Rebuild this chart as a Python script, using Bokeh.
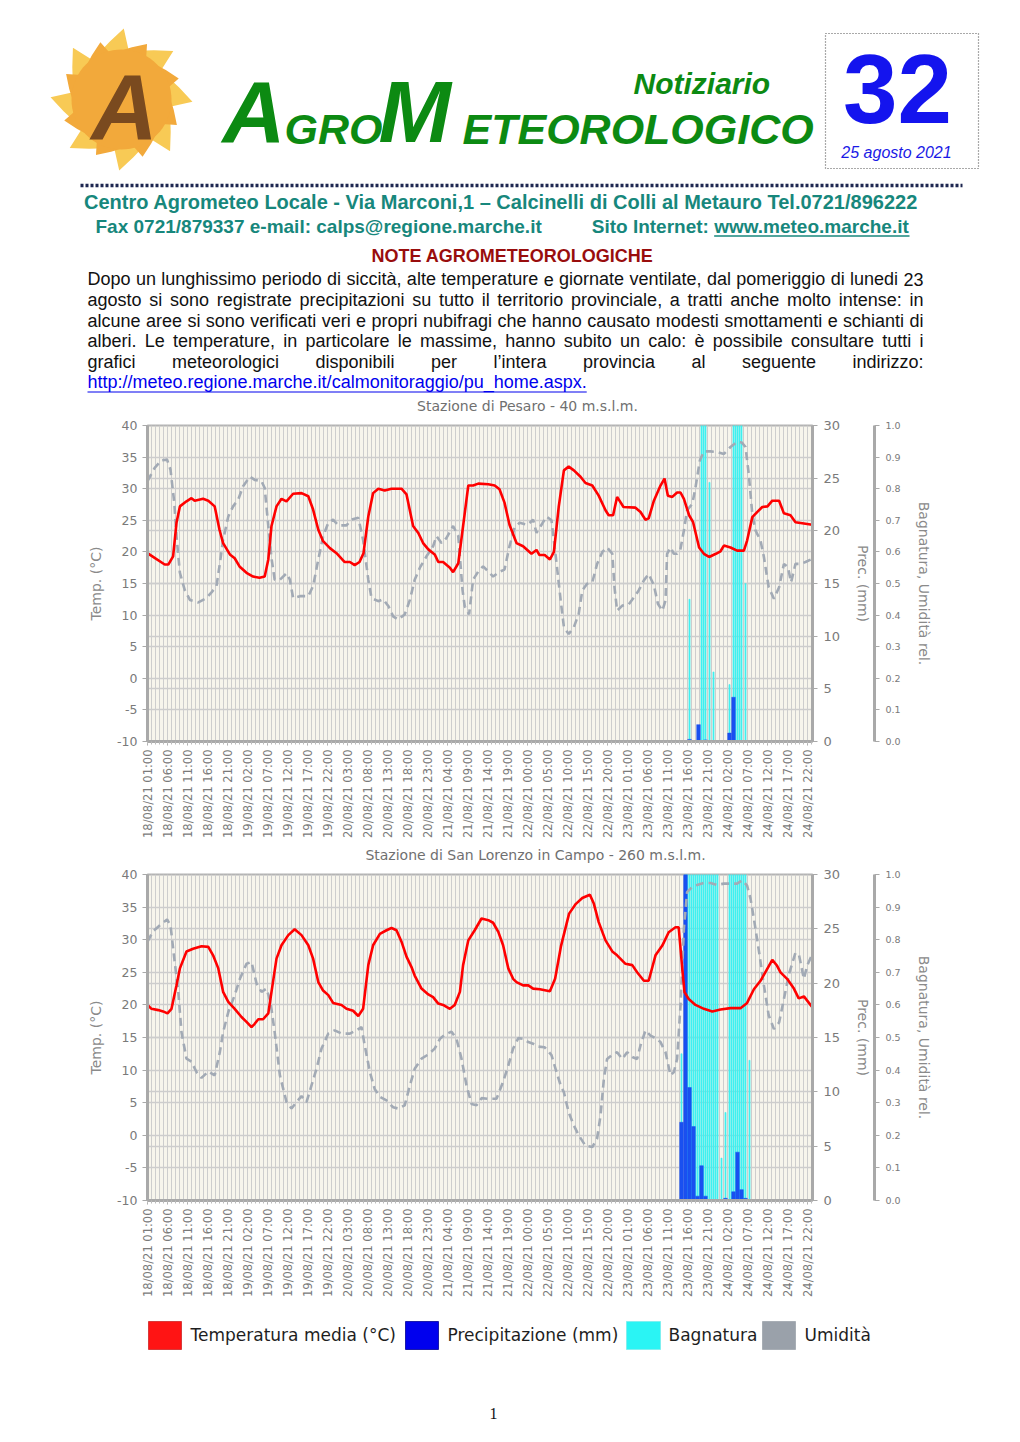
import math
from bokeh.plotting import figure
from bokeh.models import Range1d, LinearAxis, FixedTicker, Grid, PrintfTickFormatter
from bokeh.embed import file_html
from bokeh.resources import INLINE
from bokeh.core.properties import value

# ---------------- data (hours since 18/08/21 01:00) ----------------
tick_hours = list(range(0, 166, 5))
tick_labels = [
    "18/08/21 01:00", "18/08/21 06:00", "18/08/21 11:00", "18/08/21 16:00", "18/08/21 21:00",
    "19/08/21 02:00", "19/08/21 07:00", "19/08/21 12:00", "19/08/21 17:00", "19/08/21 22:00",
    "20/08/21 03:00", "20/08/21 08:00", "20/08/21 13:00", "20/08/21 18:00", "20/08/21 23:00",
    "21/08/21 04:00", "21/08/21 09:00", "21/08/21 14:00", "21/08/21 19:00",
    "22/08/21 00:00", "22/08/21 05:00", "22/08/21 10:00", "22/08/21 15:00", "22/08/21 20:00",
    "23/08/21 01:00", "23/08/21 06:00", "23/08/21 11:00", "23/08/21 16:00", "23/08/21 21:00",
    "24/08/21 02:00", "24/08/21 07:00", "24/08/21 12:00", "24/08/21 17:00", "24/08/21 22:00"]

temp_ticks = [-10, -5, 0, 5, 10, 15, 20, 25, 30, 35, 40]
temp_tick_labels = ["-10", "-5", "0", "5", "10", "15", "20", "25", "30", "35", "40"]
prec_ticks = [0, 5, 10, 15, 20, 25, 30]
rel_ticks = [0.0, 0.1, 0.2, 0.3, 0.4, 0.5, 0.6, 0.7, 0.8, 0.9, 1.0]

# Stazione di Pesaro
pesaro_temp_t = [0, 4.3, 5.2, 6.4, 7.25, 8.1, 9.75, 11, 11.8, 13.9,
                 15.2, 16.8, 18, 18.9, 20.6, 21.8, 23, 24.75, 26.4, 28,
                 29.3, 30.2, 31, 32.25, 33.5, 34.75, 36.4, 38.5, 40.2, 41.4,
                 42.7, 43.9, 45.6, 47.25, 49.3, 50.6, 51.8, 53, 54, 55.2,
                 56.4, 57.7, 59.3, 61, 63.5, 64.75, 66.4, 67.7, 68.9, 70.2,
                 71.8, 72.7, 73.9, 75.6, 76.4, 77.7, 78.9, 80.2, 81.4, 82.7,
                 85.2, 86.8, 88, 89.25, 90.5, 92.25, 93.9, 96, 97.25, 98,
                 99.3, 100.6, 101.6, 102.8, 104.1, 105.3, 106.6, 108.25, 109.5, 111.2,
                 112.8, 114.5, 115.3, 116.4, 117.4, 119, 122, 123.25, 124.5, 125.3,
                 126.6, 128.25, 129.25, 130.1, 131.2, 132.4, 133.25, 134.1, 135.4, 136.4,
                 137.9, 139.1, 140.4, 142.1, 143.25, 144.1, 145.75, 147.4, 149.1, 149.9,
                 151.2, 152.4, 153.7, 155, 156.2, 157.9, 159.1, 160.75, 162, 164.1,
                 166.2]
pesaro_temp = [19.8, 18.0, 18.0, 19.3, 24.6, 27.2, 28.0, 28.5, 28.1, 28.4,
               28.1, 27.2, 23.5, 21.4, 19.6, 19.0, 17.7, 16.7, 16.1, 15.9,
               16.1, 18.8, 24.1, 27.2, 28.4, 28.0, 29.2, 29.3, 28.8, 26.7,
               23.5, 21.7, 20.6, 19.8, 18.4, 18.4, 17.9, 18.4, 19.8, 25.6,
               29.3, 30.0, 29.7, 30.0, 30.0, 29.1, 24.1, 23.0, 21.4, 20.4,
               19.6, 18.4, 18.4, 17.5, 16.8, 18.2, 24.1, 30.5, 30.5, 30.8,
               30.7, 30.5, 29.9, 27.8, 24.3, 21.4, 20.9, 19.7, 20.3, 19.5,
               19.5, 18.8, 20.0, 27.1, 32.9, 33.5, 32.9, 31.9, 30.9, 30.5,
               28.9, 26.6, 25.8, 25.8, 28.7, 27.1, 27.0, 26.3, 25.1, 25.3,
               28.1, 30.5, 31.6, 28.9, 28.7, 29.4, 29.4, 28.4, 25.8, 24.7,
               20.7, 19.7, 19.2, 19.7, 20.1, 21.0, 20.7, 20.2, 20.2, 21.8,
               25.5, 26.3, 27.1, 27.2, 28.1, 28.1, 26.1, 25.8, 24.7, 24.5,
               24.3]
pesaro_hum_t = [0, 1.8, 3.5, 4.9, 5.75, 6.7, 7.25, 8.1, 9.3, 10.6,
                12.7, 14.75, 16, 17.25, 18.1, 18.9, 20.2, 21.4, 22.7, 23.9,
                25.6, 26.8, 28.5, 29.3, 30.2, 31, 31.8, 33.1, 34.75, 35.6,
                36.4, 38.1, 40.2, 41.4, 42.7, 43.9, 45.2, 46.4, 47.7, 49.75,
                51, 52.7, 53.9, 55.2, 56, 57.7, 58.9, 60.25, 61.4, 62.7,
                64.3, 65.6, 66.8, 68.1, 69.75, 71.4, 72.25, 73.5, 74.75, 76.4,
                77.7, 78.75, 79.3, 80.4, 81.4, 82.7, 83.9, 85.2, 86.4, 88.1,
                89.25, 90.5, 91.75, 93, 95, 96.4, 97.25, 98.5, 99.75, 101,
                102.3, 103.3, 104.1, 105.3, 106.6, 107.8, 108.7, 109.9, 111.2, 112.4,
                113.7, 114.9, 116.2, 116.75, 117.4, 118.7, 120.3, 121.6, 122.8, 124.1,
                125.3, 126.6, 127.6, 128.7, 129.5, 129.9, 130.75, 131.6, 132.4, 133.25,
                134.1, 134.9, 136.2, 137, 138.1, 139.1, 140.75, 142.4, 144.1, 145.75,
                147.4, 148.6, 149.5, 150.3, 151.2, 152, 153.25, 154.1, 155.3, 156.6,
                157.9, 159.1, 160.1, 160.9, 162, 163.25, 164.5, 166.2]
pesaro_hum = [0.824, 0.866, 0.89, 0.892, 0.86, 0.755, 0.65, 0.534, 0.48, 0.448,
              0.44, 0.454, 0.472, 0.492, 0.564, 0.638, 0.712, 0.744, 0.766, 0.808,
              0.838, 0.828, 0.824, 0.802, 0.682, 0.58, 0.512, 0.512, 0.532, 0.512,
              0.454, 0.46, 0.46, 0.492, 0.576, 0.65, 0.692, 0.702, 0.684, 0.684,
              0.702, 0.708, 0.638, 0.512, 0.454, 0.444, 0.45, 0.428, 0.396, 0.386,
              0.402, 0.448, 0.512, 0.55, 0.586, 0.618, 0.65, 0.628, 0.644, 0.682,
              0.65, 0.48, 0.428, 0.402, 0.512, 0.538, 0.554, 0.538, 0.522, 0.538,
              0.544, 0.618, 0.676, 0.692, 0.686, 0.702, 0.66, 0.686, 0.712, 0.70,
              0.56, 0.446, 0.362, 0.34, 0.362, 0.404, 0.478, 0.499, 0.504, 0.562,
              0.60, 0.614, 0.594, 0.488, 0.414, 0.43, 0.434, 0.456, 0.478, 0.51,
              0.53, 0.494, 0.436, 0.414, 0.446, 0.594, 0.614, 0.594, 0.594, 0.61,
              0.668, 0.732, 0.752, 0.804, 0.89, 0.918, 0.918, 0.916, 0.91, 0.932,
              0.948, 0.946, 0.932, 0.848, 0.72, 0.668, 0.636, 0.584, 0.488, 0.452,
              0.488, 0.562, 0.552, 0.504, 0.562, 0.562, 0.568, 0.578]
pesaro_wet_t = [135.5, 138.5, 139.0, 139.5, 140.5, 141.5, 145.5, 146.5, 147.0, 147.5, 148.0, 148.5, 149.5]
pesaro_wet = [0.45, 1.0, 1.0, 1.0, 0.82, 0.22, 0.18, 1.0, 1.0, 1.0, 1.0, 1.0, 0.5]
pesaro_rain_t = [135.5, 137.75, 139.5, 145.5, 146.5]
pesaro_rain = [0.2, 1.6, 0.15, 0.8, 4.2]

# Stazione di San Lorenzo in Campo
sanlorenzo_temp_t = [0, 1, 2.7, 3.9, 5, 6, 7.25, 8.1, 9.75, 11.4,
                     13.5, 15.2, 16.4, 17.7, 18.9, 20.2, 21.8, 23.5, 24.75, 26,
                     26.8, 27.7, 28.9, 30.2, 31, 32.25, 33.5, 35.2, 36.8, 38.5,
                     40.2, 41.4, 42.7, 43.9, 45.2, 46.4, 48.5, 49.75, 51.4, 52.7,
                     53.9, 55.2, 56.4, 58.1, 59.75, 61, 62.25, 63.5, 64.75, 66,
                     66.8, 68.5, 70.2, 71.4, 72.7, 73.9, 75.6, 76.8, 78.1, 78.9,
                     80.2, 81.8, 83.5, 85.2, 86.4, 87.7, 88.9, 90.2, 91.4, 92.25,
                     93.9, 95.2, 96.4, 98.1, 100.6, 101.9, 103.4, 105.4, 107.1, 108.7,
                     110.6, 111.6, 112.8, 114.5, 116.2, 117.4, 119.5, 121.2, 122.4, 124.1,
                     125.3, 127, 128.7, 130.3, 132, 132.8, 133.7, 134.25, 135.3, 137,
                     139.1, 141.2, 143.25, 145.75, 148.25, 149.9, 151.6, 153.25, 154.9, 156.2,
                     157.4, 158.25, 159.9, 161.6, 162.8, 164.1, 166.2]
sanlorenzo_temp = [20.0, 19.4, 19.2, 19.0, 18.7, 19.4, 23.0, 25.6, 28.2, 28.6,
                   29.0, 28.9, 27.6, 25.6, 22.0, 20.45, 19.4, 18.15, 17.4, 16.6,
                   17.1, 17.8, 17.8, 18.7, 22.0, 27.1, 29.15, 30.7, 31.6, 30.7,
                   29.15, 27.1, 23.5, 22.2, 21.5, 20.3, 20.0, 19.4, 19.1, 18.3,
                   19.4, 26.1, 29.15, 30.9, 31.45, 31.8, 31.45, 29.7, 27.4, 25.8,
                   24.5, 22.5, 21.6, 21.2, 20.2, 20.0, 19.4, 20.0, 22.0, 26.1,
                   29.9, 31.45, 33.25, 33.0, 32.6, 31.2, 29.15, 25.6, 24.0, 23.5,
                   23.0, 23.0, 22.5, 22.4, 22.1, 24.0, 29.1, 34.0, 35.5, 36.4,
                   36.9, 35.5, 32.7, 29.9, 28.2, 27.6, 26.3, 26.1, 25.0, 23.7,
                   23.7, 27.6, 29.1, 31.15, 31.9, 31.9, 25.5, 21.95, 20.9, 20.0,
                   19.4, 19.0, 19.3, 19.5, 19.5, 20.3, 22.4, 23.7, 25.5, 26.9,
                   26.0, 25.0, 24.0, 22.5, 21.0, 21.3, 19.65]
sanlorenzo_hum_t = [0, 1.4, 3.1, 4.9, 5.75, 6.7, 7.7, 8.5, 9.75, 11,
                    12.25, 13.5, 15.2, 16.8, 18.1, 18.9, 20.2, 21.8, 23.1, 24.75,
                    26, 27.25, 28.5, 29.75, 30.75, 31.8, 33.1, 34.75, 36, 37.25,
                    38.5, 39.75, 41, 42.25, 43.5, 45.2, 46.8, 48.5, 50.6, 52.25,
                    53.5, 54.3, 55.6, 56.8, 58.1, 59.75, 61.4, 62.7, 64.3, 65.6,
                    66.8, 68.5, 70.2, 71.8, 73.1, 74.3, 76, 77.25, 78.5, 79.75,
                    81, 82.25, 83.5, 85.2, 87.25, 88.9, 90.2, 91.4, 92.7, 93.9,
                    95.2, 96.4, 97.7, 99.3, 101, 102.25, 103.3, 104.1, 105.3, 106.6,
                    107.8, 109.5, 111.2, 112.4, 113.25, 114.1, 114.9, 116.2, 117.4, 118.7,
                    119.9, 121.2, 122.4, 123.25, 124.5, 125.75, 127, 128.25, 129.5, 130.75,
                    131.6, 132.4, 133.25, 134.1, 134.9, 136.2, 137.4, 139.1, 140.75, 142.4,
                    144.1, 145.75, 147.4, 148.7, 149.9, 150.75, 151.6, 152.9, 154.1, 155.3,
                    156.6, 157.9, 159.1, 160.4, 162, 162.9, 164.1, 164.9, 166.2]
sanlorenzo_hum = [0.794, 0.826, 0.844, 0.862, 0.844, 0.742, 0.64, 0.516, 0.435, 0.426,
                  0.394, 0.376, 0.396, 0.384, 0.456, 0.516, 0.578, 0.63, 0.68, 0.726,
                  0.732, 0.666, 0.64, 0.65, 0.609, 0.516, 0.384, 0.302, 0.282, 0.302,
                  0.32, 0.302, 0.353, 0.404, 0.466, 0.512, 0.522, 0.512, 0.512, 0.522,
                  0.532, 0.476, 0.394, 0.342, 0.318, 0.307, 0.286, 0.282, 0.292, 0.353,
                  0.404, 0.435, 0.448, 0.466, 0.496, 0.508, 0.518, 0.496, 0.435, 0.353,
                  0.296, 0.292, 0.314, 0.312, 0.312, 0.364, 0.414, 0.466, 0.498, 0.496,
                  0.486, 0.481, 0.472, 0.47, 0.446, 0.394, 0.353, 0.332, 0.27, 0.23,
                  0.2, 0.168, 0.164, 0.19, 0.26, 0.374, 0.434, 0.447, 0.455, 0.434,
                  0.455, 0.44, 0.434, 0.476, 0.522, 0.506, 0.498, 0.486, 0.455, 0.384,
                  0.394, 0.434, 0.598, 0.834, 0.946, 0.962, 0.968, 0.974, 0.974, 0.968,
                  0.972, 0.972, 0.972, 0.982, 0.966, 0.926, 0.864, 0.762, 0.66, 0.568,
                  0.526, 0.546, 0.618, 0.696, 0.76, 0.752, 0.68, 0.72, 0.756]
sanlorenzo_wet_t = [133.5, 134.5, 135.0, 135.5, 136.0, 136.5, 137.0, 137.5, 138.0, 138.5,
                    139.0, 139.5, 140.0, 140.5, 141.0, 141.5, 142.0, 142.5, 143.5, 144.5,
                    145.5, 146.0, 146.5, 147.0, 147.5, 148.0, 148.5, 149.0, 149.5, 150.5]
sanlorenzo_wet = [0.45, 1.0, 1.0, 1.0, 1.0, 1.0, 1.0, 1.0, 1.0, 1.0,
                  1.0, 1.0, 1.0, 1.0, 1.0, 1.0, 1.0, 1.0, 0.13, 0.27,
                  1.0, 1.0, 1.0, 1.0, 1.0, 1.0, 1.0, 1.0, 1.0, 0.43]
sanlorenzo_rain_t = [133.5, 134.5, 135.5, 136.5, 137.5, 138.5, 139.5, 144.5, 146.5, 147.5, 148.5, 149.5]
sanlorenzo_rain = [7.2, 32.0, 10.4, 6.8, 0.4, 3.2, 0.4, 0.2, 0.8, 4.45, 1.0, 0.2]

legend_labels = ["Temperatura media (°C)", "Precipitazione (mm)", "Bagnatura", "Umidità"]

# ---------------- styles ----------------
W = 1000
RED = "#ff0000"
BLUE = "#1a50f0"
CYAN = "#3ff0f0"
HUM = "#a2aab5"
FRAME_BG = "#f7f5ec"
GRID = "#cdcdcd"
AXIS = "#a9a9a9"
TXT = "#7a7a7a"
GREEN = "#0c8a12"
TEAL = "#17877c"
BASE_FIX = 0.39   # measured offset of the rendered alphabetic baseline (in em)

# Arial / Liberation Sans advance widths (1/1000 em) used for justification
_AR = dict(zip(" !\"#$%&'()*+,-./0123456789:;<=>?@",
               [278, 278, 355, 556, 556, 889, 667, 191, 333, 333, 389, 584, 278, 333, 278, 278]
               + [556] * 10 + [278, 278, 584, 584, 584, 556, 1015]))
_AR.update(dict(zip("ABCDEFGHIJKLMNOPQRSTUVWXYZ",
                    [667, 667, 722, 722, 667, 611, 778, 722, 278, 500, 667, 556, 833, 722, 778, 667,
                     778, 722, 667, 611, 722, 667, 944, 667, 667, 611])))
_AR.update(dict(zip("abcdefghijklmnopqrstuvwxyz",
                    [556, 556, 500, 556, 556, 278, 556, 556, 222, 222, 500, 222, 833, 556, 556, 556,
                     556, 333, 500, 278, 556, 500, 722, 500, 500, 500])))
_AR.update({"_": 556, "à": 556, "è": 556, "é": 556, "ì": 278, "ò": 556, "ù": 556, "’": 222, "–": 556, "°": 400})
_ARB = dict(zip(" !\"#$%&'()*+,-./0123456789:;<=>?@",
                [278, 333, 474, 556, 556, 889, 722, 238, 333, 333, 389, 584, 278, 333, 278, 278]
                + [556] * 10 + [333, 333, 584, 584, 584, 611, 975]))
_ARB.update(dict(zip("ABCDEFGHIJKLMNOPQRSTUVWXYZ",
                     [722, 722, 722, 722, 667, 611, 778, 722, 278, 556, 722, 611, 833, 722, 778, 667,
                      778, 722, 667, 611, 722, 667, 944, 667, 667, 611])))
_ARB.update(dict(zip("abcdefghijklmnopqrstuvwxyz",
                     [556, 611, 556, 611, 556, 333, 611, 611, 278, 278, 556, 278, 889, 611, 611, 611,
                      611, 389, 556, 333, 611, 556, 778, 556, 556, 500])))
_ARB.update({"_": 556, "à": 556, "è": 556, "’": 278, "–": 556})


def tw(s, bold=False):
    t = _ARB if bold else _AR
    return sum(t.get(c, 556) for c in s) / 1000.0


def page_fig(top, bottom):
    f = figure(width=W, height=bottom - top, x_range=Range1d(0, W), y_range=Range1d(bottom, top),
               output_backend="svg", toolbar_location=None, min_border=0,
               background_fill_color="white", border_fill_color="white")
    f.xaxis.visible = False
    f.yaxis.visible = False
    f.xgrid.visible = False
    f.ygrid.visible = False
    f.outline_line_color = None
    return f


def put(f, x, y, s, size, color, font="Liberation Sans", style="normal", align="left"):
    size = min(int(round(size)), 99)   # two-digit px sizes only
    f.text(x=[x], y=[y - BASE_FIX * size], text=[s], text_font=value(font), text_font_size="%dpx" % size,
           text_font_style=style, text_color=color, text_align=align, text_baseline="alphabetic")


# ---------------- header ----------------
hdr = page_fig(0, 417)

cx, cy = 121, 99
for n, ro, ri, rot, col in [(8, 71, 49, 0.15, "#f8ca55"), (8, 61, 47, 0.55, "#f2a93b")]:
    step = 2 * math.pi / n
    xs, ys = [], []
    for k in range(n):
        a = rot + k * step
        for frac, r in [(0.0, ri), (0.55, ri + 0.45 * (ro - ri)), (0.85, ro)]:
            xs.append(cx + r * math.cos(a + frac * step))
            ys.append(cy + r * math.sin(a + frac * step))
    hdr.patch(xs, ys, fill_color=col, line_color=None)
hdr.patch([cx + 50 * math.cos(2 * math.pi * i / 72) for i in range(72)],
          [cy + 50 * math.sin(2 * math.pi * i / 72) for i in range(72)],
          fill_color="#f2a93b", line_color=None)
hdr.line([80, 962], [185, 185], line_dash="3 2", line_width=3.5, line_color="#1e2750")

lineA = "Centro Agrometeo Locale - Via Marconi,1 – Calcinelli di Colli al Metauro Tel.0721/896222"
lineB1 = "Fax 0721/879337 e-mail: calps@regione.marche.it"
www = "www.meteo.marche.it"
tsA, tsB = 20, 19
x_www = 909 - tw(www, True) * tsB
hdr.line([x_www, 909], [235.5, 235.5], line_color=TEAL, line_width=1.5)

para = [
    "Dopo un lunghissimo periodo di siccità, alte temperature e giornate ventilate, dal pomeriggio di lunedi 23",
    "agosto si sono registrate precipitazioni su tutto il territorio provinciale, a tratti anche molto intense: in",
    "alcune aree si sono verificati veri e propri nubifragi che hanno causato modesti smottamenti e schianti di",
    "alberi. Le temperature, in particolare le massime, hanno subito un calo: è possibile consultare tutti i",
    "grafici meteorologici disponibili per l’intera provincia al seguente indirizzo:",
]
url = "http://meteo.regione.marche.it/calmonitoraggio/pu_home.aspx."
PL, PR = 87, 923
ps = int(min((PR - PL) / tw(l) for l in para[:4]))
bases = [286, 306.6, 327.2, 347.8, 368.4, 389]
hdr.line([PL, PL + tw(url) * ps], [bases[5] + 2.5, bases[5] + 2.5], line_color="#0000ee", line_width=1.2)

for line, yb in zip(para, bases):
    words = line.split(" ")
    wds = [tw(w) * ps for w in words]
    gap = (PR - PL - sum(wds)) / (len(words) - 1)
    xs, xpos = [], PL
    for w in wds:
        xs.append(xpos)
        xpos += w + gap
    hdr.text(x=xs, y=[yb - BASE_FIX * ps] * len(words), text=words, text_font=value("Liberation Sans"),
             text_font_size="%dpx" % ps, text_color="#111111", text_baseline="alphabetic")
put(hdr, PL, bases[5], url, ps, "#0000ee")
put(hdr, 527, 411, "Stazione di Pesaro - 40 m.s.l.m.", 14, "#707070", font="DejaVu Sans", align="center")

put(hdr, 896, 158, "25 agosto 2021", 16, "#1a1ae6", style="italic", align="center")

put(hdr, 500.5, 209, lineA, tsA, TEAL, style="bold", align="center")
put(hdr, 95, 233, lineB1, tsB, TEAL, style="bold")
put(hdr, x_www, 233, www, tsB, TEAL, style="bold")
put(hdr, x_www - tw(" ", True) * tsB, 233, "Sito Internet:", tsB, TEAL, style="bold", align="right")
note = "NOTE AGROMETEOROLOGICHE"
put(hdr, 512, 263, note, 282 / tw(note, True), "#990d0d", style="bold", align="center")

put(hdr, 124, 142, "A", 92, "#7a4a1f", style="bold italic", align="center")
put(hdr, 633, 95, "Notiziario", 136 / tw("Notiziario", True), GREEN, style="bold italic")
put(hdr, 222, 145, "A", 87, GREEN, style="bold italic")
put(hdr, 284, 145, "GRO", 43, GREEN, style="bold italic")
put(hdr, 378, 145, "M", 87, GREEN, style="bold italic")
put(hdr, 462, 145, "ETEOROLOGICO", 348 / tw("ETEOROLOGICO", True), GREEN, style="bold italic")

hdr.quad(left=[825], right=[978], top=[33], bottom=[168], fill_color=None,
         line_color="#555555", line_dash="1 2", line_width=1.2)
put(hdr, 897, 127, "32", 98, "#1414ee", style="bold", align="center")


# ---------------- station charts ----------------
def station_chart(height, top_border, bottom_border, temp_t, temp, hum_t, hum, wet_t, wet, rain_t, rain):
    p = figure(width=W, height=height, x_range=Range1d(0, 166.25), y_range=Range1d(-10, 40),
               output_backend="svg", toolbar_location=None,
               min_border_left=147, min_border_right=W - 812,
               min_border_top=top_border, min_border_bottom=bottom_border,
               background_fill_color=FRAME_BG, border_fill_color="white")
    p.extra_y_ranges = {"prec": Range1d(0, 30), "rel": Range1d(0, 1)}
    p.outline_line_color = "#b4b4b4"
    p.outline_line_width = 2

    xa = p.xaxis[0]
    xa.ticker = FixedTicker(ticks=tick_hours, minor_ticks=list(range(0, 167)))
    xa.major_label_overrides = {t: lab for t, lab in zip(tick_hours, tick_labels)}
    xa.major_label_orientation = math.pi / 2
    xa.major_label_text_font = "DejaVu Sans"
    xa.major_label_text_font_size = "11.5px"
    xa.major_label_text_color = TXT
    xa.major_label_standoff = 4
    xa.axis_line_color = AXIS
    xa.axis_line_width = 3
    xa.major_tick_line_color = AXIS
    xa.minor_tick_line_color = "#bbbbbb"
    xa.major_tick_in = 0
    xa.major_tick_out = 4
    xa.minor_tick_in = 0
    xa.minor_tick_out = 3

    ya = p.yaxis[0]
    ya.ticker = FixedTicker(ticks=temp_ticks)
    ya.major_label_overrides = {t: lab for t, lab in zip(temp_ticks, temp_tick_labels)}
    ya.axis_label = "Temp. (°C)"
    ya.axis_label_text_font = "DejaVu Sans"
    ya.axis_label_text_font_size = "14px"
    ya.axis_label_text_font_style = "normal"
    ya.axis_label_text_color = "#8a8a8a"
    ya.axis_label_standoff = 10
    ya.major_label_text_font = "DejaVu Sans"
    ya.major_label_text_font_size = "12.5px"
    ya.major_label_text_color = TXT
    ya.axis_line_color = AXIS
    ya.axis_line_width = 3
    ya.major_tick_line_color = AXIS
    ya.major_tick_in = 0
    ya.major_tick_out = 5
    ya.minor_tick_line_color = None

    pa = LinearAxis(y_range_name="prec", ticker=FixedTicker(ticks=prec_ticks), axis_label="Prec. (mm)")
    ra = LinearAxis(y_range_name="rel", ticker=FixedTicker(ticks=rel_ticks),
                    formatter=PrintfTickFormatter(format="%.1f"), axis_label="Bagnatura, Umidità rel.")
    for ax, fs in [(pa, "13px"), (ra, "9.5px")]:
        ax.axis_label_text_font = "DejaVu Sans"
        ax.axis_label_text_font_size = "14px"
        ax.axis_label_text_font_style = "normal"
        ax.axis_label_text_color = "#8a8a8a"
        ax.major_label_text_font = "DejaVu Sans"
        ax.major_label_text_font_size = fs
        ax.major_label_text_color = TXT
        ax.axis_line_color = AXIS
        ax.axis_line_width = 3
        ax.major_tick_line_color = AXIS
        ax.major_tick_in = 0
        ax.major_tick_out = 5
        ax.minor_tick_line_color = None
        ax.major_label_standoff = 6
    pa.axis_label_standoff = 12
    ra.axis_label_standoff = 12
    p.add_layout(pa, "right")
    p.add_layout(ra, "right")

    p.xgrid.ticker = FixedTicker(ticks=list(range(0, 167)))
    p.xgrid.grid_line_color = GRID
    p.xgrid.grid_line_width = 1
    p.ygrid.grid_line_color = GRID
    p.ygrid.grid_line_width = 1.5
    g2 = Grid(dimension=1, ticker=FixedTicker(ticks=prec_ticks), y_range_name="prec",
              grid_line_color=GRID, grid_line_width=1.5)
    p.add_layout(g2)

    p.vbar(x=wet_t, top=wet, width=0.28, y_range_name="rel", fill_color=CYAN, line_color=CYAN, line_width=0.6)
    p.vbar(x=rain_t, top=rain, width=0.9, y_range_name="prec", fill_color=BLUE, line_color=BLUE, line_width=0.5)
    p.line(hum_t, hum, y_range_name="rel", line_color=HUM, line_width=2.6, line_dash="8 5")
    p.line(temp_t, temp, line_color=RED, line_width=2.6)
    return p


p1 = station_chart(429, 8, 105, pesaro_temp_t, pesaro_temp, pesaro_hum_t, pesaro_hum,
                   pesaro_wet_t, pesaro_wet, pesaro_rain_t, pesaro_rain)

mid = page_fig(846, 866)
put(mid, 535, 860, "Stazione di San Lorenzo in Campo - 260 m.s.l.m.", 14, "#707070",
    font="DejaVu Sans", align="center")

p2 = station_chart(444, 8, 110, sanlorenzo_temp_t, sanlorenzo_temp, sanlorenzo_hum_t, sanlorenzo_hum,
                   sanlorenzo_wet_t, sanlorenzo_wet, sanlorenzo_rain_t, sanlorenzo_rain)

# ---------------- footer: legend + page number ----------------
foot = page_fig(1310, 1430)
foot.quad(left=[148, 405, 626, 762], right=[181, 438, 660, 795], top=[1321] * 4, bottom=[1349] * 4,
          fill_color=["#ff1414", "#0000ee", "#2af4f4", "#9aa1aa"],
          line_color=["#d83a3a", "#1a1aaa", "#7ff0f0", "#a8aeb5"], line_width=1)
foot.text(x=[190, 447, 668, 804], y=[1341 - BASE_FIX * 17] * 4, text=legend_labels, text_font=value("DejaVu Sans"),
          text_font_size="17px", text_color="#1e1e1e", text_baseline="alphabetic")
put(foot, 493, 1419, "1", 16, "#111111", font="Liberation Serif", align="center")

open("out.html", "w").write(file_html([hdr, p1, mid, p2, foot], INLINE))
